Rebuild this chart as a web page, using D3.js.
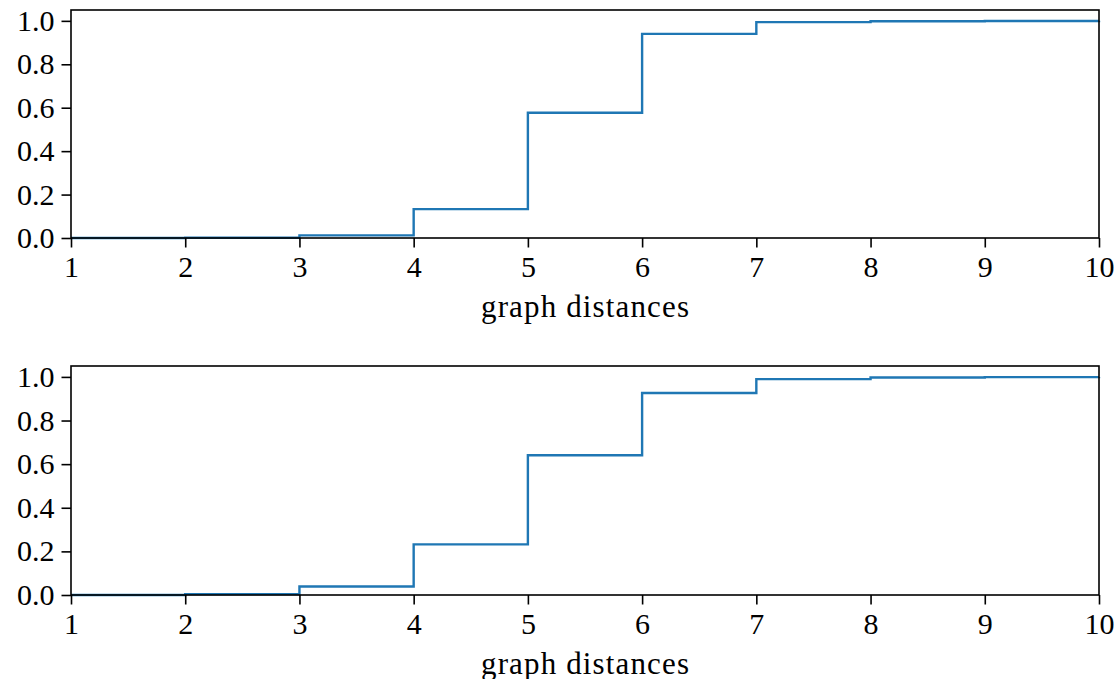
<!DOCTYPE html>
<html>
<head>
<meta charset="utf-8">
<script src="https://cdn.jsdelivr.net/npm/d3@7/dist/d3.min.js"></script>
<style>
  html, body { margin: 0; padding: 0; background: #fff; }
  svg { display: block; }
  text { font-family: "Liberation Serif", "DejaVu Serif", serif; fill: #000; }
</style>
</head>
<body>
<svg id="chart" width="1117" height="679"></svg>
<script>
// Data: graph distance (x) and cumulative fraction (y), step-after
const distances = [1, 2, 3, 4, 5, 6, 7, 8, 9, 10];
const cdfTop    = [0.0, 0.001, 0.012, 0.133, 0.577, 0.940, 0.994, 0.998, 0.999, 1.0];
const cdfBottom = [0.0, 0.004, 0.039, 0.232, 0.641, 0.926, 0.990, 0.997, 0.999, 1.0];
const xTicks = [1, 2, 3, 4, 5, 6, 7, 8, 9, 10];
const yTicks = [0.0, 0.2, 0.4, 0.6, 0.8, 1.0];
const xLabel = "graph distances";

const svg = d3.select("#chart");
const panels = [
  { values: cdfTop,    top: 10,  bottom: 238 },
  { values: cdfBottom, top: 366, bottom: 595 }
];
const left = 71, right = 1099;
const fontSize = 30;

panels.forEach(p => {
  const x = d3.scaleLinear().domain([1, 10]).range([left, right]);
  const y = d3.scaleLinear().domain([0, 1.05]).range([p.bottom, p.top]);
  const g = svg.append("g");

  // step line
  const line = d3.line()
    .x((d, i) => x(distances[i]))
    .y(d => y(d))
    .curve(d3.curveStepAfter);
  g.append("path")
    .datum(p.values)
    .attr("fill", "none")
    .attr("stroke", "#1f77b4")
    .attr("stroke-width", 2.4)
    .attr("d", line);

  // frame
  g.append("rect")
    .attr("x", left).attr("y", p.top)
    .attr("width", right - left).attr("height", p.bottom - p.top)
    .attr("fill", "none").attr("stroke", "#000").attr("stroke-width", 1.6);

  // x axis
  const xAxis = d3.axisBottom(x).tickValues(xTicks).tickFormat(d3.format("d"))
    .tickSize(9.5).tickPadding(8);
  const gx = g.append("g").attr("transform", `translate(0,${p.bottom})`).call(xAxis);
  gx.select(".domain").remove();
  gx.selectAll(".tick line").attr("stroke", "#000").attr("stroke-width", 1.6);
  gx.selectAll(".tick text").attr("font-size", fontSize)
    .attr("font-family", "Liberation Serif, serif").attr("fill", "#000");

  // y axis
  const yAxis = d3.axisLeft(y).tickValues(yTicks).tickFormat(d3.format(".1f"))
    .tickSize(9.5).tickPadding(7);
  const gy = g.append("g").attr("transform", `translate(${left},0)`).call(yAxis);
  gy.select(".domain").remove();
  gy.selectAll(".tick line").attr("stroke", "#000").attr("stroke-width", 1.6);
  gy.selectAll(".tick text").attr("font-size", fontSize)
    .attr("font-family", "Liberation Serif, serif").attr("fill", "#000");

  // axis label
  g.append("text")
    .attr("x", (left + right) / 2)
    .attr("y", p.bottom + 79)
    .attr("text-anchor", "middle")
    .attr("font-size", 31)
    .attr("textLength", 208)
    .attr("lengthAdjust", "spacing")
    .text(xLabel);
});
</script>
</body>
</html>
